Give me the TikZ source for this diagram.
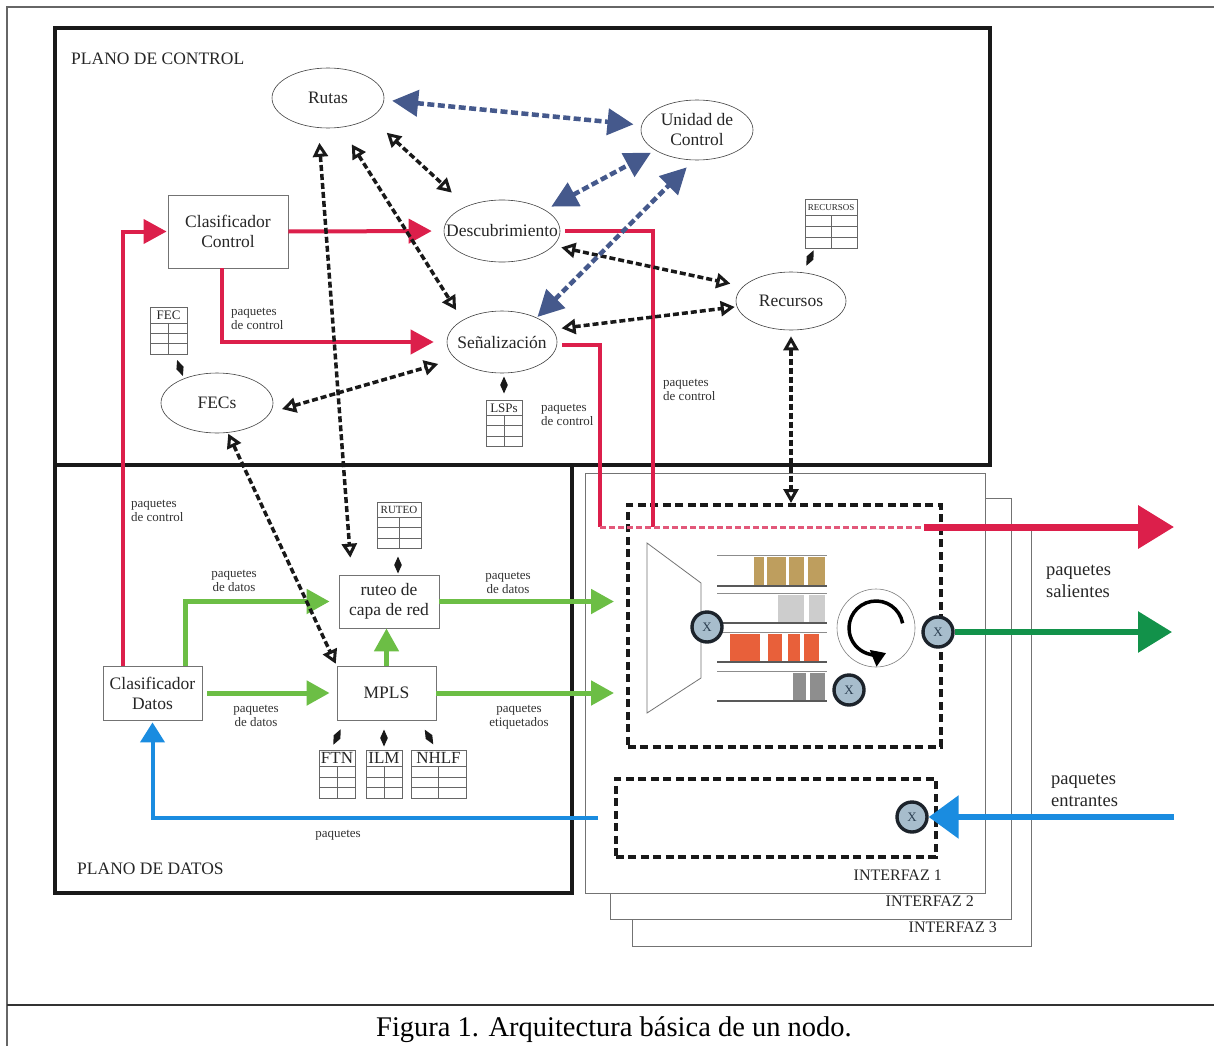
\documentclass[tikz,border=0pt]{standalone}
\usepackage{fontspec}
\setmainfont{Liberation Serif}
\usetikzlibrary{arrows.meta,shapes.geometric}
\definecolor{redc}{HTML}{DC1F4B}
\definecolor{redl}{HTML}{E2587A}
\definecolor{greenl}{HTML}{6CBE45}
\definecolor{greend}{HTML}{12924A}
\definecolor{bluec}{HTML}{1A8CE0}
\definecolor{slate}{HTML}{45598C}
\definecolor{xfill}{HTML}{A7BDCC}
\definecolor{xline}{HTML}{1C232B}
\definecolor{xtext}{HTML}{2B3E50}
\definecolor{qtan}{HTML}{BE9E5E}
\definecolor{qgray}{HTML}{CDCDCD}
\definecolor{qorange}{HTML}{E8603A}
\definecolor{qdark}{HTML}{8E8E8E}
\newcommand\mitabla[7]{%
  \node[tbl, minimum width=#4pt, minimum height=#5pt, anchor=north west] (#1) at (#2,#3) {};
  \node[font=\fontsize{#7}{#7}\selectfont, inner sep=0pt, text=black!85] at ({#2+#4/2},{#3+0.17*#5}) {#6};
  \draw[tblline] (#2,{#3+0.34*#5}) -- ++(#4,0);
  \draw[tblline] (#2,{#3+0.56*#5}) -- ++(#4,0);
  \draw[tblline] (#2,{#3+0.78*#5}) -- ++(#4,0);
  \draw[tblline] ({#2+#4/2},{#3+0.34*#5}) -- ++(0,{0.66*#5});
}
\newcommand\rombo[3]{\fill[black!90, shift={(#1,#2)}, rotate=#3] (0,-8.5) -- (3.8,0) -- (0,8.5) -- (-3.8,0) -- cycle;}
\begin{document}
\begin{tikzpicture}[x=1pt,y=-1pt,
  ell/.style={ellipse, draw=black!75, line width=0.6pt, inner sep=0pt, fill=white},
  ntx/.style={inner sep=0pt, align=center, font=\fontsize{17.5}{20}\selectfont, text=black!85},
  bx/.style={rectangle, draw=black!55, line width=0.8pt, inner sep=0pt, align=center, font=\fontsize{17.5}{20}\selectfont, text=black!85, fill=white},
  lbl/.style={inner sep=0pt, align=left, font=\fontsize{13}{14}\selectfont, text=black!80},
  lblc/.style={lbl, align=center},
  big/.style={inner sep=0pt, align=left, font=\fontsize{18.5}{22}\selectfont, text=black!85},
  ttl/.style={inner sep=0pt, font=\fontsize{17.5}{17.5}\selectfont, text=black!85},
  ifl/.style={inner sep=0pt, font=\fontsize{16}{16}\selectfont, text=black!85},
  plane/.style={draw=black!90, line width=4pt},
  ifc/.style={draw=black!55, line width=0.8pt, fill=white},
  dbox/.style={draw=black!90, line width=3.5pt, dash pattern=on 8pt off 4.5pt, inner sep=0pt},
  tbl/.style={draw=black!60, line width=0.7pt, inner sep=0pt, fill=white},
  tblline/.style={black!60, line width=0.7pt},
  blk/.style={black!90, line width=3.5pt, dash pattern=on 6pt off 3pt, <->, >={Triangle[open, length=14pt, width=15pt, line width=3pt]}},
  slt/.style={slate, line width=4.5pt, dash pattern=on 7pt off 3.5pt, <->, >={Triangle[length=26pt, width=26pt]}},
  redarr/.style={redc, line width=4pt, -{Triangle[length=23pt, width=24pt]}},
  redln/.style={redc, line width=3.5pt},
  reddash/.style={redl, line width=3pt, dash pattern=on 6pt off 3pt},
  grnarr/.style={greenl, line width=5pt, -{Triangle[length=23pt, width=24pt]}},
  bluarr/.style={bluec, line width=4pt, -{Triangle[length=20pt, width=24pt]}},
  xc/.style={circle, fill=xfill, draw=xline, line width=3.4pt, minimum size=30pt, inner sep=0pt, font=\fontsize{13}{13}\selectfont, text=xtext},
  qline/.style={black!45, line width=1pt},
  qbot/.style={black!65, line width=1.6pt},
]
\useasboundingbox (0,0) rectangle (1214,1046);
% frame
\draw[black!60, line width=1.2pt] (7,1046) -- (7,7) -- (1214,7);
\draw[black!80, line width=1.2pt] (7,1005) -- (1214,1005);
\node[font=\fontsize{28.5}{30}\selectfont] (cap) at (614,1030) {Figura 1. Arquitectura básica de un nodo.};

% interfaces
\draw[ifc] (632,530) rectangle (1031,946);
\draw[ifc] (610,498) rectangle (1011,919);
\draw[ifc] (585,473) rectangle (985,893);
\node[ifl, anchor=east] (if1) at (942,875) {INTERFAZ 1};
\node[ifl, anchor=east] (if2) at (974,901) {INTERFAZ 2};
\node[ifl, anchor=east] (if3) at (997,927) {INTERFAZ 3};

% planes
\draw[plane] (55,28) rectangle (990,465);
\draw[plane] (55,465) rectangle (572,893);
\node[ttl, anchor=west] (tc) at (71,59) {PLANO DE CONTROL};
\node[ttl, anchor=west] (td) at (77,869) {PLANO DE DATOS};

% dashed interface boxes
\node[dbox, minimum width=313pt, minimum height=242pt, anchor=north west] (ifout) at (626,503) {};
\node[dbox, minimum width=320pt, minimum height=78pt, anchor=north west] (ifin) at (614,777) {};

% trapezoid
\draw[black!55, line width=0.8pt] (647,543) -- (701,583) -- (701,678) -- (647,713) -- cycle;
% queues
\fill[qtan] (754,557) rectangle (764,585);
\fill[qtan] (767,557) rectangle (786,585);
\fill[qtan] (789,557) rectangle (804,585);
\fill[qtan] (808,557) rectangle (825,585);
\fill[qgray] (778,595) rectangle (804,622);
\fill[qgray] (809,595) rectangle (825,622);
\fill[qorange] (730,634) rectangle (760,661);
\fill[qorange] (768,634) rectangle (782,661);
\fill[qorange] (788,634) rectangle (800,661);
\fill[qorange] (804,634) rectangle (819,661);
\fill[qdark] (793,673) rectangle (806,700);
\fill[qdark] (810,673) rectangle (825,700);
\foreach \t/\b in {555/586, 593/623, 632/662, 671/701} {
  \draw[qline] (717,\t) -- (827,\t);
  \draw[qbot] (717,\b) -- (827,\b);
}
% scheduler
\node[circle, draw=black!50, line width=0.6pt, minimum size=78pt, inner sep=0pt] (sched) at (876,628) {};
\draw[black, line width=3.5pt, -{Triangle[length=14pt, width=17pt]}] ([shift={(-10:27)}]sched.center) arc[start angle=-10, end angle=-292, radius=27];

% X circles
\node[xc] (xl) at (707,627) {X};
\node[xc] (xs) at (849,690) {X};
\node[xc] (xr) at (938,632) {X};
\node[xc] (xin) at (912,817) {X};

% tables and diamonds
\mitabla{trec}{805}{199}{52}{49}{RECURSOS}{9}
\mitabla{tfec}{150}{307}{37}{47}{FEC}{13}
\mitabla{tlsp}{486}{400}{36}{46}{LSPs}{13}
\mitabla{trut}{377}{502}{44}{46}{RUTEO}{11}
\mitabla{tftn}{319}{750}{36}{48}{FTN}{17}
\mitabla{tilm}{366}{750}{36}{48}{ILM}{17}
\mitabla{tnhl}{411}{750}{55}{48}{NHLF}{17}
\rombo{810}{258}{-25}
\rombo{180}{368}{20}
\rombo{504}{385}{0}
\rombo{398}{565}{0}
\rombo{337}{737}{-25}
\rombo{384}{738}{0}
\rombo{429}{737}{30}

% control plane nodes
\node[ell, minimum width=112pt, minimum height=60pt] (rutas) at (328,98) {};
\node[ntx] at (rutas) {Rutas};
\node[ell, minimum width=112pt, minimum height=60pt] (unidad) at (697,130) {};
\node[ntx] at (unidad) {Unidad de\\Control};
\node[ell, minimum width=116pt, minimum height=62pt] (descub) at (502,231) {};
\node[ntx] at (descub) {Descubrimiento};
\node[ell, minimum width=110pt, minimum height=62pt] (senal) at (502,342) {};
\node[ntx] at (senal) {Señalización};
\node[ell, minimum width=110pt, minimum height=58pt] (recursos) at (791,301) {};
\node[ntx] at (recursos) {Recursos};
\node[ell, minimum width=112pt, minimum height=60pt] (fecs) at (217,403) {};
\node[ntx] at (fecs) {FECs};
\node[bx, minimum width=120pt, minimum height=73pt] (cctrl) at (228,231.5) {Clasificador\\Control};

% data plane nodes
\node[bx, minimum width=99pt, minimum height=54pt] (cdatos) at (152.5,693) {Clasificador\\Datos};
\node[bx, minimum width=99pt, minimum height=54pt] (mpls) at (386.5,693) {MPLS};
\node[bx, minimum width=100pt, minimum height=53pt] (ruteo) at (389,601.5) {ruteo de\\capa de red};

% labels
\node[lbl, anchor=west] (l1) at (231,319) {paquetes\\de control};
\node[lbl, anchor=west] (l2) at (541,415) {paquetes\\de control};
\node[lbl, anchor=west] (l3) at (663,390) {paquetes\\de control};
\node[lbl, anchor=west] (l4) at (131,511) {paquetes\\de control};
\node[lblc] (l5) at (234,581) {paquetes\\de datos};
\node[lblc] (l6) at (256,716) {paquetes\\de datos};
\node[lblc] (l7) at (508,583) {paquetes\\de datos};
\node[lblc] (l8) at (519,717) {paquetes\\etiquetados};
\node[lbl] (l9) at (338,835) {paquetes};
\node[big, anchor=west] (ls) at (1046,581) {paquetes\\salientes};
\node[big, anchor=west] (le) at (1051,790) {paquetes\\entrantes};

% coordinates for free ends
\coordinate (rj1) at (600,527);
\coordinate (rj3) at (653,527);
\coordinate (rj2) at (924,527);
\coordinate (rout) at (1174,527);
\coordinate (g1) at (614,601.5);
\coordinate (g2) at (614,693);
\coordinate (bin) at (1174,817);
\coordinate (gout) at (1172,632);

% red connectors
\draw[redarr, shorten >=1pt] ([xshift=20pt]cdatos.north west) |- (cctrl.west);
\draw[redarr, shorten >=12pt] (cctrl.east) -- (descub.west);
\draw[redarr, shorten >=13pt] ([xshift=54pt]cctrl.south west) |- (senal.west);
\draw[redln] ([xshift=5pt]descub.east) -| (rj3);
\draw[redln] ([xshift=5pt,yshift=-3pt]senal.east) -| (rj1);
\draw[reddash] (rj1) -- (rj2);
\draw[redc, line width=7pt, -{Triangle[length=36pt, width=42pt]}] (rj2) -- (rout);

% green connectors
\draw[grnarr, shorten >=9pt] ([xshift=83pt]cdatos.north west) |- (ruteo.west);
\draw[grnarr, shorten <=5pt, shorten >=7pt] (cdatos.east) -- (mpls.west);
\draw[grnarr] (mpls.north) -- (mpls.north |- ruteo.south);
\draw[grnarr] (ruteo.east) -- (g1);
\draw[grnarr] (mpls.east) -- (g2);
\draw[greend, line width=6pt, -{Triangle[length=34pt, width=40pt]}] (xr.east) -- (gout);

% blue connectors
\draw[bluarr, shorten >=2pt] ([xshift=-16pt]ifin.west) -| (cdatos.south);
\draw[bluec, line width=6pt, -{Triangle[length=30pt, width=42pt]}] (bin) -- (xin.east);

% black dashed connectors
\draw[blk, shorten <=15pt, shorten >=17pt] (rutas.252) -- ([xshift=13pt]ruteo.north west);
\draw[blk, shorten <=20pt, shorten >=12pt] (rutas.294) -- (senal.151);
\draw[blk, shorten <=22pt, shorten >=20pt] (rutas.335) -- (descub.145);
\draw[blk, shorten <=8pt, shorten >=13pt] (descub.-16) -- (recursos.163);
\draw[blk, shorten <=9pt, shorten >=2pt] (senal.14) -- (recursos.186);
\draw[blk, shorten <=12pt, shorten >=18pt] (fecs.-10) -- (senal.200);
\draw[blk, shorten <=1pt, shorten >=2pt] (fecs.290) -- (mpls.north west);
\draw[blk, shorten <=6pt] (recursos.south) -- (recursos.south |- ifout.north);

% slate dashed connectors
\draw[slt, shorten <=8pt, shorten >=8pt] (rutas.-2) -- (unidad.175);
\draw[slt, shorten <=7pt, shorten >=5pt] (descub.26) -- (unidad.206);
\draw[slt, shorten <=1pt, shorten >=10pt] (senal.35) -- (unidad.264);
\end{tikzpicture}
\end{document}
